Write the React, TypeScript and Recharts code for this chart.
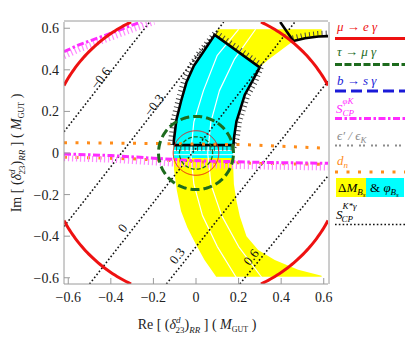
import React from 'react';
import { ComposedChart, XAxis, YAxis, Line, Area, ReferenceDot, Legend } from 'recharts';

type Pt = { x: number; y: number };

const SERIF = '"Liberation Serif", "DejaVu Serif", serif';
const RED = '#ee1111';
const GREEN = '#1d6b1d';
const BLUE = '#1a1ad8';
const MAGENTA = '#ff2cff';
const PINK = '#ff88ff';
const GRAY = '#8c8c8c';
const ORANGE = '#ff8c1a';
const YELLOW = '#ffff00';
const CYAN = '#00ffff';
const AXIS = '#9a9a9a';

// axes
const X_DOMAIN: [number, number] = [-0.62, 0.62];
const Y_DOMAIN: [number, number] = [-0.63, 0.63];
const majorTicks = [-0.6, -0.4, -0.2, 0, 0.2, 0.4, 0.6];
const minorTicks = [-0.55, -0.5, -0.45, -0.35, -0.3, -0.25, -0.15, -0.1, -0.05, 0.05, 0.1, 0.15, 0.25, 0.3, 0.35, 0.45, 0.5, 0.55];

// circles around the origin
const muEGammaRadii = [0.7, 0.107];
const tauMuGammaRadii = [0.176, 0.078];

// ΔM_Bs band (yellow): left edge, upper arm, right edge
const bandInnerRe = [0.095, 0.04, 0.0, -0.04, -0.07, -0.09, -0.103, -0.106, -0.104, -0.092, -0.07, -0.045, -0.01, 0.03, 0.088, 0.103];
const bandInnerIm = [-0.595, -0.515, -0.44, -0.36, -0.28, -0.18, -0.08, 0, 0.06, 0.16, 0.25, 0.34, 0.42, 0.48, 0.568, 0.595];
const bandArmRe = [0.59, 0.59, 0.512, 0.457, 0.402, 0.339, 0.299];
const bandArmIm = [0.595, 0.56, 0.552, 0.539, 0.496, 0.448, 0.412];
const bandOuterRe = [0.299, 0.264, 0.229, 0.205, 0.19, 0.178, 0.174, 0.175, 0.178, 0.19, 0.206, 0.237, 0.292, 0.37, 0.48, 0.59, 0.59];
const bandOuterIm = [0.412, 0.344, 0.28, 0.2, 0.152, 0.07, 0, -0.07, -0.15, -0.23, -0.305, -0.4, -0.466, -0.514, -0.562, -0.59, -0.595];
// white contours inside the band
const white1Re = [0.19, 0.1, 0.03, -0.01, -0.025, -0.01, 0.035, 0.1, 0.2];
const white1Im = [-0.6, -0.45, -0.3, -0.15, 0, 0.15, 0.3, 0.47, 0.595];
const white2Re = [0.31, 0.2, 0.12, 0.07, 0.055, 0.07, 0.11, 0.18, 0.28];
const white2Im = [-0.6, -0.45, -0.3, -0.15, 0, 0.15, 0.3, 0.45, 0.595];

// φ_Bs window (cyan): bottom of strip, black lower edge
const phiStripIm = [-0.024, 0.038];
const phiStripWhiteIm = [0.012, -0.008];
// black boundary top right
const phiCutRe = [0.392, 0.457];
const phiCutIm = [0.635, 0.539];
const phiRimRe = [0.457, 0.512, 0.575, 0.64];
const phiRimIm = [0.539, 0.552, 0.56, 0.563];

// S_CP^{φK}
const sphiUpperRe = [-0.64, -0.55, -0.45, -0.3, -0.2];
const sphiUpperIm = [0.478, 0.52, 0.557, 0.615, 0.65];
const sphiLowerRe = [-0.64, -0.4, -0.2, 0, 0.3, 0.64];
const sphiLowerIm = [-0.004, -0.012, -0.025, -0.037, -0.045, -0.05];

// d_n
const dnUpperRe = [-0.64, -0.13, 0.23, 0.64];
const dnUpperIm = [0.05, 0.045, 0.04, 0.022];
const dnLowerRe = [-0.64, -0.3, 0, 0.3, 0.64];
const dnLowerIm = [-0.02, -0.028, -0.042, -0.05, -0.055];

// S_CP^{K*γ} contours
const kstarValues = ['\u22120.6', '\u22120.3', '0', '0.3', '0.6'];
const kstarFromRe = [-0.62, -0.62, -0.5, -0.139, 0.206];
const kstarFromIm = [0.102, -0.354, -0.63, -0.63, -0.63];
const kstarToRe = [-0.218, 0.13, 0.465, 0.62, 0.62];
const kstarToIm = [0.63, 0.63, 0.63, 0.345, -0.11];
const kstarLabelRe = [-0.449, -0.198, -0.345, -0.089, 0.258];
const kstarLabelIm = [0.36, 0.23, -0.36, -0.494, -0.5];

const toPts = (re: number[], im: number[]): Pt[] => re.map((x, i) => ({ x, y: im[i] }));

const circlePts = (r: number): Pt[] => {
  const n = 360;
  return Array.from({ length: n + 1 }, (_, i) => ({
    x: r * Math.cos((2 * Math.PI * i) / n),
    y: r * Math.sin((2 * Math.PI * i) / n),
  }));
};

// parallel copy of a polyline, d > 0 to the left of the direction of travel
const shift = (pts: Pt[], d: number): Pt[] =>
  pts.map((p, i) => {
    const a = pts[Math.max(0, i - 1)];
    const b = pts[Math.min(pts.length - 1, i + 1)];
    const tx = b.x - a.x;
    const ty = b.y - a.y;
    const len = Math.hypot(tx, ty) || 1;
    return { x: p.x - (d * ty) / len, y: p.y + (d * tx) / len };
  });

// cut a segment to the plot frame (Liang-Barsky)
const clipSeg = (a: Pt, b: Pt): [Pt, Pt] | null => {
  const dx = b.x - a.x;
  const dy = b.y - a.y;
  let t0 = 0;
  let t1 = 1;
  const checks: [number, number][] = [
    [-dx, a.x - X_DOMAIN[0]],
    [dx, X_DOMAIN[1] - a.x],
    [-dy, a.y - Y_DOMAIN[0]],
    [dy, Y_DOMAIN[1] - a.y],
  ];
  for (const [p, q] of checks) {
    if (p === 0) {
      if (q < 0) return null;
    } else {
      const t = q / p;
      if (p < 0) t0 = Math.max(t0, t);
      else t1 = Math.min(t1, t);
    }
  }
  if (t0 > t1) return null;
  return [
    { x: a.x + t0 * dx, y: a.y + t0 * dy },
    { x: a.x + t1 * dx, y: a.y + t1 * dy },
  ];
};

// the visible pieces of a polyline
const clipToFrame = (pts: Pt[]): Pt[][] => {
  const pieces: Pt[][] = [];
  let cur: Pt[] = [];
  let last: Pt | null = null;
  for (let i = 0; i < pts.length - 1; i++) {
    const s = clipSeg(pts[i], pts[i + 1]);
    if (!s) {
      last = null;
      continue;
    }
    const [p, q] = s;
    if (!last || Math.abs(last.x - p.x) > 1e-9 || Math.abs(last.y - p.y) > 1e-9) {
      if (cur.length > 1) pieces.push(cur);
      cur = [p];
    }
    cur.push(q);
    last = q;
  }
  if (cur.length > 1) pieces.push(cur);
  return pieces;
};

const inner = toPts(bandInnerRe, bandInnerIm);
const arm = toPts(bandArmRe, bandArmIm);
const outer = toPts(bandOuterRe, bandOuterIm);
const yellowPoly = [...inner, ...arm, ...outer.slice(1), inner[0]];

const [stripLow, stripCap] = phiStripIm;
const cyanInner = inner.filter((p) => p.y >= 0 && p.y <= 0.57);
const cyanOuter = outer.filter((p) => p.y >= 0);
const leftX = cyanInner[0].x;
const rightX = cyanOuter[cyanOuter.length - 1].x;
const cyanPoly = [{ x: leftX, y: stripLow }, ...cyanInner, ...cyanOuter, { x: rightX, y: stripLow }, { x: leftX, y: stripLow }];
const blackPoly = [
  { x: leftX + 0.001, y: stripCap },
  ...cyanInner.filter((p) => p.y > stripCap),
  ...cyanOuter.filter((p) => p.y > stripCap),
  { x: rightX + 0.002, y: stripCap },
  { x: leftX + 0.001, y: stripCap },
];
const stripWhites = phiStripWhiteIm.map((y) => [{ x: leftX, y }, { x: rightX, y }]);

const fmt = (v: number) => (v === 0 ? '0' : (v < 0 ? '\u2212' : '') + Math.abs(v).toFixed(1));

const TitleBody = ({ prefix }: { prefix: string }) => (
  <>
    <tspan>{prefix} [ (</tspan>
    <tspan fontStyle="italic">δ</tspan>
    <tspan fontSize={9} dy={-6} fontStyle="italic">d</tspan>
    <tspan fontSize={9} dx={-5} dy={10}>23</tspan>
    <tspan dy={-4}>)</tspan>
    <tspan fontSize={9} dy={4} fontStyle="italic">RR</tspan>
    <tspan dy={-4}> ] ( </tspan>
    <tspan fontStyle="italic">M</tspan>
    <tspan fontSize={8} dy={3}>GUT</tspan>
    <tspan dy={-3}> )</tspan>
  </>
);

const XTitle = () => (
  <text x={197} y={329} textAnchor="middle" fontFamily={SERIF} fontSize={14} fill="#222">
    <TitleBody prefix="Re" />
  </text>
);

const YTitle = () => (
  <text transform="rotate(-90)" x={-153} y={21} textAnchor="middle" fontFamily={SERIF} fontSize={14} fill="#222">
    <TitleBody prefix="Im" />
  </text>
);

const XTick = (p: any) => (
  <text x={p.x} y={p.y} dy="0.71em" textAnchor="middle" fontFamily={SERIF} fontSize={14} fill="#222">
    {fmt(p.payload.value)}
  </text>
);

const YTick = (p: any) => (
  <text x={p.x} y={p.y} dy="0.355em" textAnchor="end" fontFamily={SERIF} fontSize={14} fill="#222">
    {fmt(p.payload.value)}
  </text>
);

const LegendPanel = () => (
  <svg width={76} height={232} fontFamily={SERIF} style={{ display: 'block' }}>
    <g fontSize={13} fontStyle="italic">
      <text x={7} y={31} fill={RED}>μ → e γ</text>
      <text x={7} y={56} fill={GREEN}>τ → μ γ</text>
      <text x={7} y={85} fill={BLUE}>b → s γ</text>
      <text x={6} y={113} fill={MAGENTA}>
        S<tspan fontSize={9} dy={-9}>φK</tspan>
        <tspan fontSize={9} dx={-11} dy={12}>CP</tspan>
      </text>
      <text x={7} y={140} fill={GRAY}>
        ϵ′ / ϵ<tspan fontSize={9} dy={3}>K</tspan>
      </text>
      <text x={7} y={165} fill={ORANGE}>
        d<tspan fontSize={9} dy={3}>n</tspan>
      </text>
    </g>
    <line x1={5} x2={75} y1={38.5} y2={38.5} stroke={RED} strokeWidth={3} />
    <line x1={5} x2={75} y1={64.5} y2={64.5} stroke={GREEN} strokeWidth={3} strokeDasharray="7 2.5" />
    <line x1={5} x2={75} y1={91} y2={91} stroke={BLUE} strokeWidth={3} strokeDasharray="11 5" />
    <line x1={5} x2={75} y1={118.5} y2={118.5} stroke={MAGENTA} strokeWidth={3} strokeDasharray="7 2.5 2.5 2.5" />
    <line x1={5} x2={75} y1={145.5} y2={145.5} stroke={GRAY} strokeWidth={2} strokeDasharray="2 2 2 6" />
    <line x1={5} x2={75} y1={172} y2={172} stroke={ORANGE} strokeWidth={3} strokeDasharray="3 8.5" />
    <rect x={6} y={178} width={30} height={19} fill={YELLOW} />
    <rect x={36} y={178} width={38} height={19} fill={CYAN} />
    <text x={8} y={192} fontSize={13} fill="#000">
      Δ<tspan fontStyle="italic">M</tspan>
      <tspan fontSize={9} dy={3} fontStyle="italic">B</tspan>
      <tspan fontSize={7} dy={2} fontStyle="italic">s</tspan>
    </text>
    <text x={40} y={192} fontSize={13} fill="#000">
      &amp; <tspan fontStyle="italic">φ</tspan>
      <tspan fontSize={9} dy={3} fontStyle="italic">B</tspan>
      <tspan fontSize={7} dy={2} fontStyle="italic">s</tspan>
    </text>
    <text x={6} y={219} fontSize={13} fontStyle="italic" fill="#000">
      S<tspan fontSize={9} dy={-10}>K*γ</tspan>
      <tspan fontSize={9} dx={-15} dy={13}>CP</tspan>
    </text>
    <line x1={5} x2={75} y1={224.5} y2={224.5} stroke="#111" strokeWidth={1.6} strokeDasharray="1.6 2.2" />
  </svg>
);

const curve = (key: string, pts: Pt[], stroke: string, width: number, dash?: string) =>
  clipToFrame(pts).map((piece, j) => (
    <Line
      key={`${key}-${j}`}
      data={piece}
      dataKey="y"
      type="linear"
      stroke={stroke}
      strokeWidth={width}
      strokeDasharray={dash}
      strokeLinejoin="round"
      dot={false}
      activeDot={false}
      legendType="none"
      isAnimationActive={false}
    />
  ));

const polygon = (key: string, data: Pt[], fill: string) => (
  <Area
    key={key}
    data={data}
    dataKey="y"
    type="linear"
    baseValue={data[0].y}
    stroke="none"
    fill={fill}
    fillOpacity={1}
    dot={false}
    activeDot={false}
    legendType="none"
    isAnimationActive={false}
  />
);

export default function App() {
  const sphiUpper = toPts(sphiUpperRe, sphiUpperIm);
  const sphiLower = toPts(sphiLowerRe, sphiLowerIm);
  const phiRim = toPts(phiRimRe, phiRimIm);
  return (
    <div style={{ position: 'absolute', left: 0, top: 0, fontFamily: SERIF }}>
      <ComposedChart width={406} height={343} margin={{ top: 20, right: 76, bottom: 57, left: 62 }}>
        <XAxis
          type="number"
          dataKey="x"
          domain={X_DOMAIN}
          allowDataOverflow
          ticks={majorTicks}
          interval={0}
          tickSize={-6}
          tickMargin={14}
          height={1}
          stroke={AXIS}
          tick={XTick}
          label={{ content: XTitle }}
        />
        <XAxis xAxisId="bMinor" type="number" domain={X_DOMAIN} allowDataOverflow ticks={minorTicks} interval={0} tickSize={-3} height={1} stroke={AXIS} tick={false} axisLine={false} />
        <XAxis xAxisId="top" orientation="top" type="number" domain={X_DOMAIN} allowDataOverflow ticks={majorTicks} interval={0} tickSize={-6} height={1} stroke={AXIS} tick={false} />
        <XAxis xAxisId="tMinor" orientation="top" type="number" domain={X_DOMAIN} allowDataOverflow ticks={minorTicks} interval={0} tickSize={-3} height={1} stroke={AXIS} tick={false} axisLine={false} />
        <YAxis
          type="number"
          dataKey="y"
          domain={Y_DOMAIN}
          allowDataOverflow
          ticks={majorTicks}
          interval={0}
          tickSize={-6}
          tickMargin={11}
          width={1}
          stroke={AXIS}
          tick={YTick}
          label={{ content: YTitle }}
        />
        <YAxis yAxisId="lMinor" type="number" domain={Y_DOMAIN} allowDataOverflow ticks={minorTicks} interval={0} tickSize={-3} width={1} stroke={AXIS} tick={false} axisLine={false} />
        <YAxis yAxisId="right" orientation="right" type="number" domain={Y_DOMAIN} allowDataOverflow ticks={majorTicks} interval={0} tickSize={-6} width={1} stroke={AXIS} tick={false} />
        <YAxis yAxisId="rMinor" orientation="right" type="number" domain={Y_DOMAIN} allowDataOverflow ticks={minorTicks} interval={0} tickSize={-3} width={1} stroke={AXIS} tick={false} axisLine={false} />

        {polygon('yellow', yellowPoly, YELLOW)}
        {polygon('cyan', cyanPoly, CYAN)}

        {curve('white1', toPts(white1Re, white1Im), '#fff', 1.2)}
        {curve('white2', toPts(white2Re, white2Im), '#fff', 1.2)}
        {stripWhites.map((w, i) => curve(`strip${i}`, w, '#fff', 0.9))}

        {curve('blackHatch', shift(blackPoly, 0.016), '#444', 4.5, '1 3.2')}
        {curve('black', blackPoly, '#000', 2.6)}
        {curve('rimHatch', shift(phiRim, 0.016), '#444', 4.5, '1 3.2')}
        {curve('rim', phiRim, '#000', 2.6)}
        {curve('cut', toPts(phiCutRe, phiCutIm), '#000', 2.6)}

        {kstarValues.map((v, i) =>
          curve(
            `kstar${i}`,
            [
              { x: kstarFromRe[i], y: kstarFromIm[i] },
              { x: kstarToRe[i], y: kstarToIm[i] },
            ],
            '#111',
            1.6,
            '1.6 2.2',
          ),
        )}

        {curve('dnUpper', toPts(dnUpperRe, dnUpperIm), ORANGE, 3, '3 8.5')}
        {curve('dnLower', toPts(dnLowerRe, dnLowerIm), ORANGE, 3, '3 8.5')}

        {curve('sphiUpperHatch', shift(sphiUpper, -0.02), PINK, 6, '1.2 2.8')}
        {curve('sphiLowerHatch', shift(sphiLower, -0.02), PINK, 6, '1.2 2.8')}
        {curve('sphiUpper', sphiUpper, MAGENTA, 3, '7 2.5 2.5 2.5')}
        {curve('sphiLower', sphiLower, MAGENTA, 3, '7 2.5 2.5 2.5')}

        {curve('tau0', circlePts(tauMuGammaRadii[0]), GREEN, 3, '9 4')}
        {curve('tau1', circlePts(tauMuGammaRadii[1]), GREEN, 1.3, '4 2')}
        {curve('mu0', circlePts(muEGammaRadii[0]), RED, 3)}
        {curve('mu1', circlePts(muEGammaRadii[1]), RED, 1)}

        {kstarValues.map((v, i) => (
          <ReferenceDot
            key={`kl${i}`}
            x={kstarLabelRe[i]}
            y={kstarLabelIm[i]}
            r={0}
            ifOverflow="visible"
            shape={(p: any) => (
              <text
                x={p.cx}
                y={p.cy}
                transform={`rotate(-52 ${p.cx} ${p.cy})`}
                textAnchor="middle"
                dominantBaseline="central"
                fontFamily={SERIF}
                fontSize={13}
                fill="#111"
              >
                {v}
              </text>
            )}
          />
        ))}

        <Legend
          layout="vertical"
          align="center"
          verticalAlign="middle"
          content={() => <LegendPanel />}
          wrapperStyle={{ left: 330, top: 0, width: 76, height: 232 }}
        />
      </ComposedChart>
    </div>
  );
}
